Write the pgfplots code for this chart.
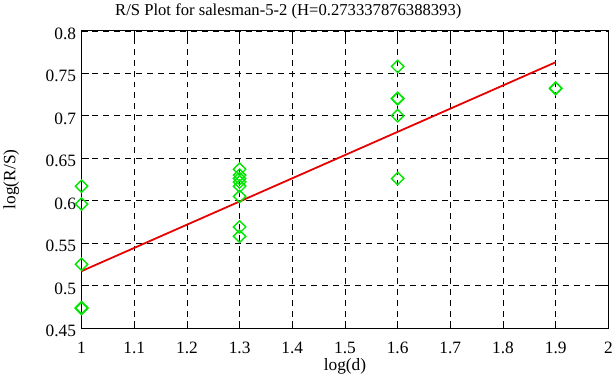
\documentclass[border=0pt]{standalone}
\usepackage{fontspec}
\setmainfont{Liberation Serif}
\usepackage{pgfplots}
\pgfplotsset{compat=1.18}
\definecolor{ptgreen}{RGB}{0,230,0}
\definecolor{ptred}{RGB}{230,0,0}
\begin{document}
\begin{tikzpicture}
\begin{axis}[
  name=ax,
  scale only axis,
  width=530bp, height=299bp,
  xmin=1, xmax=2, ymin=0.45, ymax=0.8,
  xtick={1,1.1,...,2.01},
  ytick={0.45,0.5,...,0.81},
  xticklabels={1,1.1,1.2,1.3,1.4,1.5,1.6,1.7,1.8,1.9,2},
  yticklabels={0.45,0.5,0.55,0.6,0.65,0.7,0.75,0.8},
  tick align=inside,
  major tick length=7bp,
  tick style={black, line width=0.8bp},
  axis line style={black, line width=1bp},
  grid=major,
  grid style={black, dashed, dash pattern=on 6bp off 5bp, line width=0.6bp},
  /pgf/number format/assume math mode=true,
  tick label style={font=\fontsize{17.5}{19}\selectfont},
  label style={font=\fontsize{17.5}{19}\selectfont},
  title style={font=\fontsize{16.8}{19}\selectfont, yshift=2bp, xshift=-57bp},
  title={R/S Plot for salesman-5-2 (H=0.273337876388393)},
  xlabel={log(d)},
  ylabel={log(R/S)},
  xticklabel style={yshift=-11bp},
  yticklabel style={yshift=-3bp, xshift=-2bp},
  xlabel style={yshift=3bp},
  ylabel style={yshift=20bp},
  clip=false,
]
\addplot[ptred, line width=1.8bp] coordinates {(1,0.5170) (1.9,0.7630)};
\addplot[only marks, mark=square, mark size=4.4bp, mark options={rotate=45, ptgreen, line width=1.4bp}] coordinates {
(1,0.617) (1,0.596) (1,0.525) (1,0.473) (1,0.474) (1,0.4735)
(1.3,0.637) (1.3,0.630) (1.3,0.626) (1.3,0.622) (1.3,0.617) (1.3,0.605) (1.3,0.569) (1.3,0.558)
(1.6,0.758) (1.6,0.720) (1.6,0.7205) (1.6,0.700) (1.6,0.626)
(1.9,0.732) (1.9,0.7325)
};
\end{axis}
\path (ax.south west) ++(-82bp,-57bp) coordinate (bl);
\path (ax.south west) ++(534bp,330bp) coordinate (tr);
\path (bl) rectangle (tr);
\end{tikzpicture}
\end{document}
